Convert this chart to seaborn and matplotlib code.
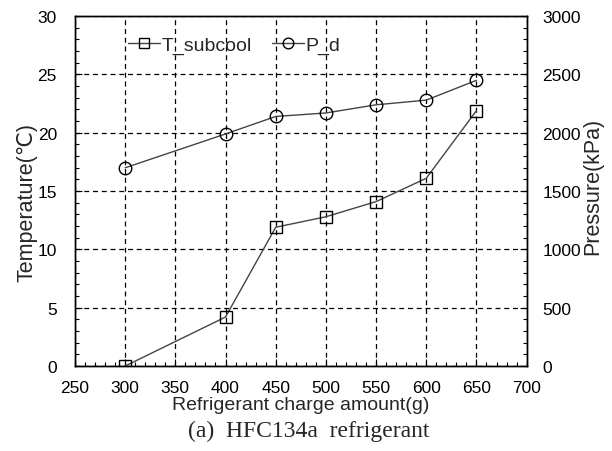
import matplotlib
matplotlib.use("Agg")
import matplotlib.pyplot as plt
import seaborn as sns
import pandas as pd
from matplotlib.ticker import MultipleLocator

charge = [300, 400, 450, 500, 550, 600, 650]
t_subcool = [0.0, 4.2, 11.9, 12.8, 14.1, 16.1, 21.9]
p_d = [1700, 1990, 2140, 2170, 2240, 2280, 2450]

sns.set_theme(style="ticks")
plt.rcParams['font.family'] = ['Liberation Sans', 'DejaVu Sans']

df = pd.DataFrame({"charge": charge, "T_subcool": t_subcool, "P_d": p_d})

fig = plt.figure(figsize=(6.12, 4.52), dpi=100)
ax = fig.add_axes([0.1225, 0.188, 0.738, 0.774])
ax2 = ax.twinx()

sns.lineplot(data=df, x="charge", y="T_subcool", ax=ax, color="#444444", lw=1.0,
             marker="s", markersize=8, markerfacecolor="none", markeredgecolor="black",
             markeredgewidth=1.0, label="T_subcool", legend=False)
sns.lineplot(data=df, x="charge", y="P_d", ax=ax2, color="#444444", lw=1.0,
             marker="o", markersize=9, markerfacecolor="none", markeredgecolor="black",
             markeredgewidth=1.0, label="P_d", legend=False)

ax.set_xlim(250, 700)
ax.set_ylim(0, 30)
ax2.set_ylim(0, 3000)
ax.xaxis.set_major_locator(MultipleLocator(50))
ax.xaxis.set_minor_locator(MultipleLocator(10))
ax.yaxis.set_major_locator(MultipleLocator(5))
ax.yaxis.set_minor_locator(MultipleLocator(1))
ax2.yaxis.set_major_locator(MultipleLocator(500))
ax2.yaxis.set_minor_locator(MultipleLocator(100))

ax.grid(True, which="major", color="black", linestyle=(0, (4, 3)), linewidth=0.9)
ax.set_axisbelow(True)

fs = 12.5
ax.tick_params(axis="both", which="both", direction="in", colors="black", labelsize=fs,
               top=False, right=False)
ax.tick_params(axis="both", which="major", length=5, width=0.8)
ax.tick_params(axis="both", which="minor", length=3, width=0.8)
ax.tick_params(axis="x", which="major", pad=10)
ax.tick_params(axis="y", which="major", pad=13)
ax2.tick_params(axis="y", which="both", direction="in", colors="black", labelsize=fs)
ax2.tick_params(axis="y", which="major", length=5, width=0.8, pad=11.5)
ax2.tick_params(axis="y", which="minor", length=3, width=0.8)

for a in (ax, ax2):
    for s in a.spines.values():
        s.set_color("black")
        s.set_linewidth(1.0)

ax.set_xlabel("Refrigerant charge amount(g)", fontsize=14, labelpad=1)
ax.set_ylabel("Temperature(℃)", fontsize=15.5)
ax2.set_ylabel("Pressure(kPa)", fontsize=15.5)
ax.yaxis.set_label_coords(-0.083, 0.471)
ax2.yaxis.set_label_coords(1.124, 0.517)

h1, l1 = ax.get_legend_handles_labels()
h2, l2 = ax2.get_legend_handles_labels()
ax.legend(h1 + h2, l1 + l2, loc="center left", bbox_to_anchor=(0.117, 0.917), ncol=2,
          frameon=False, fontsize=14, handlelength=1.65, handletextpad=0.1,
          columnspacing=1.0, borderpad=0, borderaxespad=0, markerscale=0.85)

fig.text(0.504, 0.046, "(a)  HFC134a  refrigerant", family=["Liberation Serif", "DejaVu Serif"],
         fontsize=17, ha="center", va="center")

fig.savefig("out.png", dpi=100)
